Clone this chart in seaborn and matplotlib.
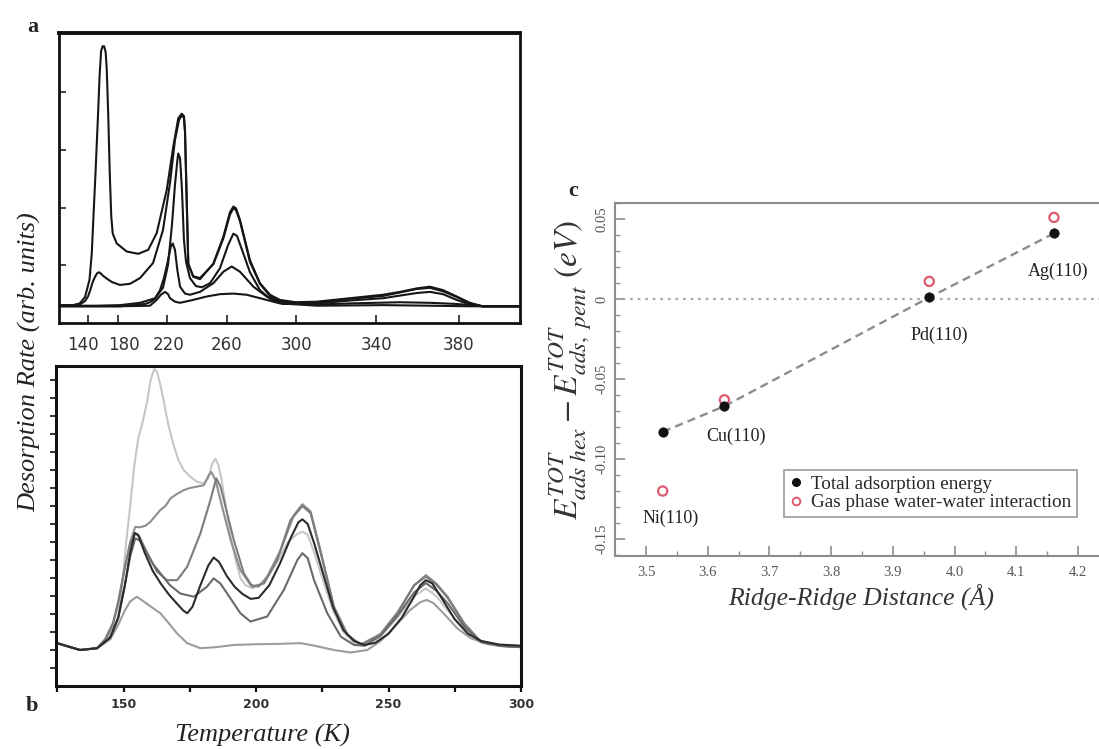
import numpy as np
import matplotlib
matplotlib.use("Agg")
import matplotlib.pyplot as plt
import matplotlib.transforms as mtransforms
from matplotlib.lines import Line2D
import seaborn as sns

# ---------------- Panel a : TPD traces (temperature in K, rate in arb. units) ----------------
A1_T = [101, 120, 129, 136, 142, 145, 147.1, 150, 153, 155.5, 157.5, 159.5, 161.5, 163.5, 165, 167, 169, 171, 173, 178.3,
        187.1, 196.6, 204.7, 211.6, 219.8, 224.2, 227.5, 229.8, 231.3, 232, 233.1, 234.2, 237.5, 242, 250.9, 257.6, 261.7,
        263.7, 265.2, 267.5, 273.3, 279.1, 284.9, 290.7, 300, 310.4, 327, 343.4, 351.6, 359.6, 366, 372.3, 378.9, 385.2,
        391.4, 409]
A1_Y = [0.31, 0.31, 0.34, 0.45, 0.75, 1.2, 1.8, 2.6, 3.5, 4.3, 4.72, 4.8, 4.8, 4.7, 4.4, 3.6, 2.6, 1.85, 1.55, 1.38,
        1.24, 1.20, 1.27, 1.56, 2.31, 3.06, 3.55, 3.63, 3.59, 3.34, 2.19, 1.03, 0.80, 0.76, 1.03, 1.50, 1.92,
        2.02, 1.99, 1.79, 1.09, 0.69, 0.49, 0.40, 0.36, 0.37, 0.43, 0.49, 0.54, 0.60, 0.63, 0.57, 0.46, 0.35,
        0.29, 0.29]
A2_T = [101, 120, 129, 136, 140, 143, 146, 149.3, 152, 154.5, 157, 160, 164.9, 172, 181.6, 189.8, 198, 208.6, 216.7, 222,
        225.3, 228, 229.8, 231.3, 232, 233.1, 234.2, 237.5, 242, 250.9, 257.6, 261.7, 263.7, 265.2, 267.5, 273.3, 279.1,
        284.9, 290.7, 300, 310.4, 327, 343.4, 351.6, 359.6, 366, 372.3, 378.9, 385.2, 391.4, 409]
A2_Y = [0.30, 0.30, 0.32, 0.38, 0.46, 0.57, 0.70, 0.80, 0.86, 0.88, 0.86, 0.82, 0.77, 0.71, 0.66, 0.68, 0.78, 1.04, 1.61, 2.43,
        3.17, 3.52, 3.60, 3.56, 3.31, 2.13, 1.02, 0.81, 0.78, 1.02, 1.47, 1.88, 1.99, 1.96, 1.77, 1.06, 0.68,
        0.47, 0.38, 0.35, 0.36, 0.42, 0.47, 0.53, 0.59, 0.61, 0.55, 0.45, 0.34, 0.29, 0.29]
A3_T = [101, 150, 181.6, 198, 210.2, 216.7, 220.7, 223.3, 225.3, 226.9, 227.5, 228.7, 230, 231.3, 232.7, 235.3, 239.3, 243.3,
        248.7, 255.3, 260.6, 263.7, 265.8, 268.7, 273.3, 279.1, 284.9, 292.5, 310.4, 327, 343.4, 359.6, 366, 372.3, 378.9,
        385.2, 391.4, 409]
A3_Y = [0.30, 0.30, 0.31, 0.35, 0.43, 0.61, 1.01, 1.70, 2.39, 2.82, 2.94, 2.86, 2.30, 1.44, 1.06, 0.78, 0.64, 0.62,
        0.69, 0.95, 1.35, 1.55, 1.51, 1.27, 0.88, 0.57, 0.42, 0.33, 0.34, 0.39, 0.43, 0.52, 0.54, 0.50, 0.40,
        0.32, 0.29, 0.29]
A4_T = [101, 150, 181.6, 202, 206.1, 210.2, 214.3, 217.5, 220.2, 222.5, 223.8, 225.3, 226.9, 228.7, 232, 235.3, 242, 250.9,
        257.6, 262.7, 267.5, 275.3, 283, 290.7, 310.4, 327, 351.6, 366, 378.9, 391.4, 409]
A4_Y = [0.29, 0.29, 0.29, 0.33, 0.36, 0.42, 0.57, 0.78, 1.03, 1.32, 1.38, 1.27, 0.92, 0.63, 0.51, 0.49, 0.54, 0.69,
        0.89, 0.98, 0.89, 0.63, 0.46, 0.37, 0.32, 0.34, 0.36, 0.35, 0.33, 0.29, 0.29]
A5_T = [101, 150, 181.6, 206.1, 211.5, 215, 218.4, 220.7, 222, 225.3, 228.7, 237.3, 246.5, 255.3, 263.7, 271.4, 283, 290.7,
        310.4, 343.4, 366, 385.2, 409]
A5_Y = [0.29, 0.29, 0.29, 0.30, 0.40, 0.49, 0.54, 0.50, 0.43, 0.37, 0.35, 0.40, 0.46, 0.50, 0.51, 0.49, 0.40, 0.34,
        0.30, 0.31, 0.30, 0.29, 0.29]
A_TICKS = [140, 180, 220, 260, 300, 340, 380]
A_TICK_LABELS = ["140", "180", "220", "260", "300", "340", "380"]
# the printed temperature axis of panel a is not evenly spaced: relative axis position of each tick
A_TICK_SPACING = [88, 118, 167, 227, 296, 376, 459]

# ---------------- Panel b : TPD traces ----------------
B1_T = [124.5, 129, 133.6, 140, 143, 146, 148, 149.5, 151, 152.5, 154, 155.6, 157.1, 158.9, 160.2, 161.6, 162.7, 163.9,
        165.1, 166.9, 168.9, 170.7, 172.7, 175.2, 177.8, 180.3, 182, 183.5, 184.7, 185.8, 187, 188.5, 190.3, 192.3, 194.1,
        196, 198.5, 201.5, 204, 208, 212, 215.5, 217.5, 219.5, 222, 225, 229, 233, 237, 241, 247, 253.4, 259.7, 264.1,
        268, 272.3, 278.6, 284.9, 292, 300]
B1_Y = [1.20, 1.10, 1.00, 1.05, 1.19, 1.56, 1.9, 2.8, 4.0, 5.0, 6.1, 6.9, 7.3, 7.9, 8.5, 8.81, 8.72, 8.36,
        7.94, 7.25, 6.69, 6.28, 6.0, 5.81, 5.67, 5.63, 5.78, 6.19, 6.31, 6.14, 5.72, 5.03, 4.19, 3.5, 3.0,
        2.8, 2.72, 2.8, 2.98, 3.45, 4.0, 4.22, 4.29, 4.2, 3.7, 3.0, 2.1, 1.5, 1.2, 1.12, 1.38, 1.9, 2.5, 2.71,
        2.5, 2.1, 1.6, 1.25, 1.12, 1.08]
B2_T = [124.5, 129, 133.6, 140, 143, 146, 148, 150.5, 152.5, 154.4, 156.3, 158.2, 160.1, 163.9, 165.8, 167.7, 170, 172.7,
        175, 177.8, 180.3, 182.2, 183.1, 184.7, 187.2, 190.4, 194.1, 197.9, 201, 204.2, 209.3, 214.3, 217.5, 220.6, 224.4,
        229.4, 234.5, 239.5, 247, 253.4, 259.7, 264.1, 268, 272.3, 278.6, 284.9, 292, 300]
B2_Y = [1.20, 1.10, 1.00, 1.05, 1.25, 1.7, 2.3, 3.3, 4.0, 4.42, 4.41, 4.45, 4.56, 4.89, 5.0, 5.21, 5.33, 5.44,
        5.5, 5.54, 5.58, 5.86, 5.95, 5.72, 4.98, 4.06, 3.22, 2.81, 2.76, 3.04, 3.78, 4.75, 5.05, 4.85, 3.75,
        2.2, 1.42, 1.15, 1.45, 2.05, 2.8, 3.08, 2.85, 2.48, 1.74, 1.23, 1.12, 1.08]
B3_T = [124.5, 129, 133.6, 140, 143, 146, 148, 150.5, 152.5, 154.4, 156, 158.9, 162.6, 166.4, 170.2, 174, 179, 182.8, 185,
        186.6, 189.1, 191.6, 195.4, 198.6, 203, 208, 213, 217.5, 220.6, 224.4, 229.4, 234.5, 239.5, 247, 253.4, 259.7,
        264.1, 268, 272.3, 278.6, 284.9, 292, 300]
B3_Y = [1.20, 1.10, 1.00, 1.05, 1.3, 1.75, 2.35, 3.3, 3.95, 4.24, 4.15, 3.69, 3.18, 2.94, 2.94, 3.31, 4.24, 5.17, 5.77,
        5.54, 4.8, 4.06, 3.13, 2.76, 2.85, 3.5, 4.61, 5.0, 4.8, 3.69, 2.2, 1.42, 1.14, 1.42, 2.02, 2.8,
        3.04, 2.82, 2.45, 1.72, 1.22, 1.12, 1.08]
B4_T = [124.5, 129, 133.6, 140, 145, 148, 150.5, 152.5, 154.2, 155.5, 158, 161, 164, 167, 170, 172.5, 174, 176, 179, 182,
        184, 186, 189, 192, 195, 198, 201, 205, 209, 213, 216, 217.5, 219.5, 222, 225, 229, 233, 237, 241, 245, 250, 255,
        259, 262, 264.1, 266.5, 270, 275, 280, 285, 292, 300]
B4_Y = [1.2, 1.1, 1.0, 1.05, 1.35, 1.9, 2.8, 3.7, 4.25, 4.2, 3.7, 3.2, 2.85, 2.55, 2.3, 2.1, 2.02, 2.2, 2.8, 3.35,
        3.57, 3.45, 3.05, 2.75, 2.55, 2.42, 2.45, 2.8, 3.4, 4.1, 4.55, 4.63, 4.5, 3.95, 3.2, 2.2, 1.55, 1.25, 1.14, 1.2,
        1.45, 1.9, 2.4, 2.8, 2.94, 2.85, 2.45, 1.85, 1.45, 1.25, 1.15, 1.12]
B5_T = [124.5, 129, 133.6, 140, 145, 148, 150.5, 152.5, 154.4, 156, 158.5, 161, 163.9, 167.5, 171.4, 176.5, 181.5, 184,
        186.5, 189.1, 194.1, 197.9, 204.2, 210.5, 215.6, 217.5, 219.5, 221.9, 226.9, 232, 237, 241, 247, 253.4, 259.7,
        264.1, 268, 272.3, 278.6, 284.9, 292, 300]
B5_Y = [1.2, 1.1, 1.0, 1.05, 1.35, 1.9, 2.8, 3.6, 4.1, 4.05, 3.75, 3.4, 3.13, 2.8, 2.57, 2.48, 2.76, 2.99,
        2.85, 2.57, 2.02, 1.79, 1.93, 2.67, 3.5, 3.69, 3.55, 2.94, 2.02, 1.37, 1.14, 1.12, 1.4, 1.95, 2.6,
        2.86, 2.65, 2.3, 1.65, 1.22, 1.12, 1.08]
B6_T = [124.5, 129, 133.6, 140, 145, 148, 150.5, 152.5, 155, 157, 160, 163.9, 167, 170.2, 174, 179, 185, 191.6, 200, 208,
        216.8, 222, 229.4, 235.7, 242, 247, 253, 258, 262, 264.5, 267, 271, 276, 281, 287, 293, 300]
B6_Y = [1.2, 1.1, 1.0, 1.05, 1.3, 1.7, 2.1, 2.35, 2.48, 2.38, 2.22, 2.02, 1.75, 1.46, 1.19, 1.05, 1.08, 1.14, 1.16, 1.17,
        1.19, 1.12, 1.0, 0.93, 1.0, 1.25, 1.7, 2.1, 2.33, 2.39, 2.3, 2.0, 1.6, 1.33, 1.17, 1.1, 1.08]
B_TICKS = [150, 200, 250, 300]
B_MINOR = [125, 175, 225, 275]

# ---------------- Panel c : energy difference vs ridge distance ----------------
METALS = ["Ni(110)", "Cu(110)", "Pd(110)", "Ag(110)"]
RIDGE = [3.527, 3.627, 3.959, 4.161]
E_TOTAL = [-0.083, -0.067, 0.001, 0.041]
E_GAS = [-0.120, -0.063, 0.011, 0.051]
C_XTICKS = [3.5, 3.6, 3.7, 3.8, 3.9, 4.0, 4.1, 4.2]
C_YTICKS = [-0.15, -0.10, -0.05, 0.0, 0.05]
C_YTICK_LABELS = ["-0.15", "-0.10", "-0.05", "0", "0.05"]
LEGEND_LABELS = ["Total adsorption energy", "Gas phase water-water interaction"]

# ---------------- style ----------------
sns.set_style("white")
plt.rcParams['font.family'] = ['Liberation Serif', 'DejaVu Serif']
plt.rcParams['mathtext.fontset'] = 'stix'

W, H = 1099, 749
fig = plt.figure(figsize=(W / 100, H / 100), dpi=100)


def box(l, t, r, b):
    return [l / W, 1 - b / H, (r - l) / W, (b - t) / H]


ax_a = fig.add_axes(box(59, 33, 520, 323))
ax_b = fig.add_axes(box(56, 366, 521, 686))
ax_c = fig.add_axes(box(615, 203, 1101, 556))

# ---- non-uniform temperature axis of panel a ----
_TK = np.array(A_TICKS, float)
_UK = np.array(A_TICK_SPACING, float)
_S0 = (_UK[1] - _UK[0]) / (_TK[1] - _TK[0])
_S1 = (_UK[-1] - _UK[-2]) / (_TK[-1] - _TK[-2])


def a_fwd(t):
    t = np.asarray(t, float)
    u = np.interp(t, _TK, _UK)
    u = np.where(t < _TK[0], _UK[0] + (t - _TK[0]) * _S0, u)
    u = np.where(t > _TK[-1], _UK[-1] + (t - _TK[-1]) * _S1, u)
    return u


def a_inv(u):
    u = np.asarray(u, float)
    t = np.interp(u, _UK, _TK)
    t = np.where(u < _UK[0], _TK[0] + (u - _UK[0]) / _S0, t)
    t = np.where(u > _UK[-1], _TK[-1] + (u - _UK[-1]) / _S1, t)
    return t


# ---------------- Panel a ----------------
for T, Y in [(A5_T, A5_Y), (A4_T, A4_Y), (A3_T, A3_Y), (A2_T, A2_Y), (A1_T, A1_Y)]:
    sns.lineplot(x=T, y=Y, ax=ax_a, color='#161616', lw=1.5, sort=False, estimator=None)
ax_a.set_xscale('function', functions=(a_fwd, a_inv))
ax_a.set_xlim(a_inv(59), a_inv(520))
ax_a.set_ylim(0, 5.03)
ax_a.set_xticks(A_TICKS, A_TICK_LABELS, fontfamily='DejaVu Sans', fontsize=12, color='#333333')
ax_a.xaxis.set_minor_locator(matplotlib.ticker.NullLocator())
ax_a.set_yticks([1, 2, 3, 4])
ax_a.tick_params(axis='x', direction='in', length=6, width=1.2, color='#222222', bottom=True, pad=9)
ax_a.tick_params(axis='y', direction='in', length=5, width=1.2, color='#222222', left=True, labelleft=False)
ax_a.set_xlabel('')
ax_a.set_ylabel('')
for sp in ax_a.spines.values():
    sp.set_visible(True)
    sp.set_linewidth(2.0)
    sp.set_color('#111111')
ax_a.spines['top'].set_linewidth(2.8)

# ---------------- Panel b ----------------
for T, Y, col in [(B1_T, B1_Y, '#c6c6c6'), (B6_T, B6_Y, '#9c9c9c'), (B2_T, B2_Y, '#8e8e8e'),
                  (B3_T, B3_Y, '#7c7c7c'), (B5_T, B5_Y, '#6a6a6a'), (B4_T, B4_Y, '#2c2c2c')]:
    sns.lineplot(x=T, y=Y, ax=ax_b, color=col, lw=1.5, sort=False, estimator=None)
ax_b.set_xlim(124.5, 300)
ax_b.set_ylim(0, 8.89)
ax_b.set_xticks(B_TICKS, [str(v) for v in B_TICKS], fontfamily='DejaVu Sans', fontsize=9,
                fontweight='bold', color='#333333')
ax_b.set_xticks(B_MINOR, minor=True)
ax_b.set_yticks(np.arange(0.5, 8.6, 0.5))
ax_b.tick_params(axis='x', which='both', direction='out', length=4.5, width=1.6, color='#111111', bottom=True, pad=4)
ax_b.tick_params(axis='y', direction='out', length=4, width=1.2, color='#111111', left=True, labelleft=False)
ax_b.set_xlabel('')
ax_b.set_ylabel('')
for sp in ax_b.spines.values():
    sp.set_visible(True)
    sp.set_linewidth(2.2)
    sp.set_color('#111111')

# ---------------- Panel c ----------------
RED = '#de5a6e'
ax_c.axhline(0, color='#a8a8a8', ls=(0, (1.2, 2.2)), lw=1.6, zorder=1)
sns.lineplot(x=RIDGE, y=E_TOTAL, ax=ax_c, color='#8c8c8c', lw=1.7, ls=(0, (3.5, 2.2)), sort=False,
             estimator=None, zorder=2)
sns.scatterplot(x=RIDGE, y=E_GAS, ax=ax_c, marker='o', s=44, color=RED, facecolor='none', edgecolor=RED,
                linewidth=1.6, zorder=3)
sns.scatterplot(x=RIDGE, y=E_TOTAL, ax=ax_c, marker='o', s=46, color='#111111', edgecolor='#111111',
                linewidth=0.5, zorder=4)
label_offsets = {"Ni(110)": (E_GAS, 5.5, -19.5), "Cu(110)": (E_TOTAL, 8.5, -21.5),
                 "Pd(110)": (E_TOTAL, 7.0, -27.0), "Ag(110)": (E_TOTAL, 3.0, -27.5)}
for i, name in enumerate(METALS):
    src, dx, dy = label_offsets[name]
    ax_c.annotate(name, (RIDGE[i], src[i]), xytext=(dx, dy), textcoords='offset points',
                  ha='center', va='center', fontsize=13, color='#222222')

ax_c.set_xlim(3.5 - 31 / 617, 4.2 + 23 / 617)
ax_c.set_ylim(-0.1606, 0.06)
ax_c.set_xticks(C_XTICKS, [f"{v:.1f}" for v in C_XTICKS], fontsize=10.5, color='#555555')
ax_c.set_xticks(np.arange(3.55, 4.21, 0.1), minor=True)
ax_c.set_yticks(C_YTICKS, C_YTICK_LABELS, fontsize=10.5, color='#555555', rotation=90, va='center')
ax_c.set_yticks([v / 100 for v in range(-16, 7) if v % 5 != 0], minor=True)
ax_c.tick_params(which='major', direction='in', length=7, width=1.2, color='#8c8c8c', left=True, bottom=True)
ax_c.tick_params(which='minor', direction='in', length=3.5, width=1.0, color='#8c8c8c', left=True, bottom=True)
ax_c.tick_params(axis='y', which='major', pad=5)
ax_c.tick_params(axis='x', which='major', pad=7)
ax_c.set_xlabel('')
ax_c.set_ylabel('')
for name, sp in ax_c.spines.items():
    sp.set_linewidth(1.5)
    sp.set_color('#8c8c8c')
    sp.set_visible(name != 'right')

h_tot = Line2D([], [], marker='o', ls='none', color='#111111', markersize=5.5)
h_gas = Line2D([], [], marker='o', ls='none', markerfacecolor='none', markeredgecolor=RED,
               markeredgewidth=1.4, markersize=5.5)
leg = ax_c.legend([h_tot, h_gas], LEGEND_LABELS, loc='lower right',
                  bbox_to_anchor=((1077 - 615) / 486, (556 - 517) / 353),
                  frameon=True, fancybox=False, edgecolor='#8c8c8c', fontsize=13.8, handlelength=0.6,
                  handletextpad=0.5, borderpad=0.3, labelspacing=0.05, borderaxespad=0)
leg.get_frame().set_linewidth(1.3)

# ---------------- figure texts ----------------
fig.text(33 / W, 1 - 27 / H, 'a', fontsize=16, fontweight='bold', ha='center', va='center')
fig.text(32 / W, 1 - 706 / H, 'b', fontsize=16, fontweight='bold', ha='center', va='center')
fig.text(573 / W, 1 - 191 / H, 'c', fontsize=16, fontweight='bold', ha='center', va='center')
fig.text(30 / W, 1 - 362 / H, 'Desorption Rate (arb. units)', rotation=90, fontsize=19, style='italic',
         ha='center', va='center', color='#222222')
fig.text(262 / W, 1 - 735 / H, 'Temperature (K)', fontsize=19, style='italic', ha='center', va='center',
         color='#222222')
fig.text(861 / W, 1 - 597 / H, 'Ridge-Ridge Distance (Å)', fontsize=18.5, style='italic', ha='center',
         va='center', color='#333333')
fig.text(571 / W, 1 - 370 / H, r'$E^{TOT}_{ads\ hex} - E^{TOT}_{ads,\ pent}\ (eV)$', rotation=90,
         fontsize=24, ha='center', va='center', color='#333333')

# small nudges of the crowded tick labels of panel a
fig.canvas.draw()
for tk, dx in zip(ax_a.xaxis.get_major_ticks(), [-4, 4, 1, 0, 0, 0, 0]):
    if dx:
        tk.label1.set_transform(tk.label1.get_transform() +
                                mtransforms.ScaledTranslation(dx / 72, 0, fig.dpi_scale_trans))

fig.savefig('out.png', dpi=100)
